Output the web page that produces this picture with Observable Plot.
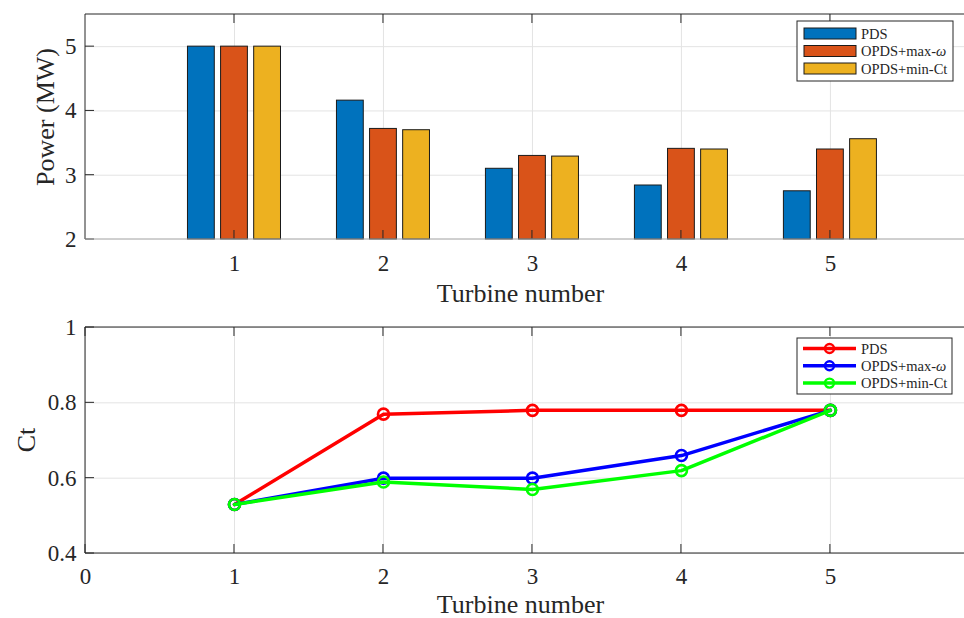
<!DOCTYPE html>
<html><head><meta charset="utf-8">
<script src="https://cdn.jsdelivr.net/npm/d3@7"></script>
<script src="https://cdn.jsdelivr.net/npm/@observablehq/plot@0.6"></script>
<style>
body{margin:0;background:#fff;}
#chart{width:964px;}
#chart svg{display:block;}
</style></head><body><div id="chart"></div>
<script>
const turbines = [1, 2, 3, 4, 5];
const seriesNames = ["PDS", "OPDS+max-ω", "OPDS+min-Ct"];
const powerPDS = [5.0, 4.16, 3.10, 2.84, 2.75];
const powerMaxOmega = [5.0, 3.72, 3.30, 3.41, 3.40];
const powerMinCt = [5.0, 3.70, 3.29, 3.40, 3.56];
const ctPDS = [0.53, 0.77, 0.78, 0.78, 0.78];
const ctMaxOmega = [0.53, 0.60, 0.60, 0.66, 0.78];
const ctMinCt = [0.53, 0.59, 0.57, 0.62, 0.78];
const powerTicks = [2, 3, 4, 5];
const ctTicks = [0.4, 0.6, 0.8, 1];
const xTicksTop = [1, 2, 3, 4, 5];
const xTicksBottom = [0, 1, 2, 3, 4, 5];
const xLabel = "Turbine number";
const powerLabel = "Power (MW)";
const ctLabel = "Ct";

const barColors = ["#0072BD", "#D95319", "#EDB120"];
const lineColors = ["#FF0000", "#0000FF", "#00FF00"];
const FONT = "'Liberation Serif', 'Times New Roman', serif";
const GRID = "#e3e3e3", FRAME = "#262626";
const fmt = d => String(d);

const powerSeries = [powerPDS, powerMaxOmega, powerMinCt];
const ctSeries = [ctPDS, ctMaxOmega, ctMinCt];
const groupOffset = 0.2222, barW = 0.18;
const bars = [];
powerSeries.forEach((vals, i) => vals.forEach((v, j) => bars.push({
  turbine: turbines[j], i, value: v,
  x1: turbines[j] + (i - 1) * groupOffset - barW / 2,
  x2: turbines[j] + (i - 1) * groupOffset + barW / 2
})));
const pts = [];
ctSeries.forEach((vals, i) => vals.forEach((v, j) => pts.push({turbine: turbines[j], i, value: v})));

function addLegendText(sel, name) {
  const parts = name.split("ω");
  sel.append("tspan").text(parts[0]);
  if (parts.length > 1) {
    sel.append("tspan").attr("font-style", "italic").text("ω");
    sel.append("tspan").text(parts[1]);
  }
}

function decorate(svg, o) {
  const x = svg.scale("x"), y = svg.scale("y");
  const s = d3.select(svg);
  const [xl, xr] = x.range;
  const [yb, yt] = y.range;
  const g = s.append("g").attr("fill", "none");
  o.xTicks.forEach(v => {
    const px = x.apply(v);
    g.append("line").attr("x1", px).attr("x2", px).attr("y1", yt).attr("y2", yt + 9).attr("stroke", FRAME);
    g.append("line").attr("x1", px).attr("x2", px).attr("y1", yb).attr("y2", yb - 9).attr("stroke", FRAME);
  });
  o.yTicks.forEach(v => {
    const py = y.apply(v);
    g.append("line").attr("x1", xl).attr("x2", xl + 9).attr("y1", py).attr("y2", py).attr("stroke", FRAME);
  });
  g.append("line").attr("x1", xl).attr("x2", xr).attr("y1", yt).attr("y2", yt).attr("stroke", FRAME);
  g.append("line").attr("x1", xl).attr("x2", xl).attr("y1", yt).attr("y2", yb).attr("stroke", FRAME);
  g.append("line").attr("x1", xl).attr("x2", xr).attr("y1", yb).attr("y2", yb).attr("stroke", o.bottomColor);
  s.append("text").attr("x", (xl + xr) / 2 - 4).attr("y", yb + o.xLabelDy)
    .attr("text-anchor", "middle").attr("fill", FRAME).attr("font-size", 26).attr("font-family", FONT).text(xLabel);
  s.append("text").attr("transform", `translate(${o.yLabelX},${o.yLabelY}) rotate(-90)`)
    .attr("text-anchor", "middle").attr("fill", FRAME).attr("font-size", 26).attr("font-family", FONT).text(o.yLabel);
  const L = s.append("g").attr("font-family", FONT).attr("font-size", 14.5).attr("text-anchor", "start");
  L.append("rect").attr("x", o.leg.x).attr("y", o.leg.y).attr("width", o.leg.w).attr("height", o.leg.h)
    .attr("fill", "#fff").attr("stroke", FRAME).attr("stroke-width", 1);
  seriesNames.forEach((name, i) => {
    const cy = o.leg.y + o.leg.row0 + i * o.leg.step;
    if (o.kind === "bar") {
      L.append("rect").attr("x", o.leg.x + 7).attr("y", cy - 5.5).attr("width", 52).attr("height", 11)
        .attr("fill", barColors[i]).attr("stroke", "#1a1a1a");
    } else {
      L.append("line").attr("x1", o.leg.x + 6).attr("x2", o.leg.x + 59).attr("y1", cy).attr("y2", cy)
        .attr("stroke", lineColors[i]).attr("stroke-width", 3.5);
      L.append("circle").attr("cx", o.leg.x + 32.5).attr("cy", cy).attr("r", 4.5)
        .attr("fill", "none").attr("stroke", lineColors[i]).attr("stroke-width", 2.4);
    }
    const t = L.append("text").attr("x", o.leg.x + 64).attr("y", cy).attr("dy", "0.35em")
      .attr("fill", FRAME).attr("text-anchor", "start");
    addLegendText(t, name);
  });
}

const topChart = Plot.plot({
  width: 964, height: 310,
  marginLeft: 85, marginRight: 0, marginTop: 14, marginBottom: 71,
  x: {domain: [0, 5.9]}, y: {domain: [2, 5.5]},
  style: {fontFamily: FONT, fontSize: "23px", color: FRAME, background: "#fff"},
  marks: [
    Plot.gridX(xTicksTop, {stroke: GRID, strokeOpacity: 1}),
    Plot.gridY(powerTicks.slice(1), {stroke: GRID, strokeOpacity: 1}),
    Plot.rectY(bars, {x1: "x1", x2: "x2", y1: 2, y2: "value", fill: d => barColors[d.i], stroke: "#1a1a1a", strokeWidth: 1}),
    Plot.axisX(xTicksTop, {tickSize: 0, tickPadding: 15, label: null, fontSize: 23, tickFormat: fmt}),
    Plot.axisY(powerTicks, {tickSize: 0, tickPadding: 9, label: null, fontSize: 23, tickFormat: fmt})
  ]
});
decorate(topChart, {
  xTicks: xTicksTop, yTicks: powerTicks, bottomColor: "#a0a0a0",
  xLabelDy: 63, yLabel: powerLabel, yLabelX: 54, yLabelY: 117, kind: "bar",
  leg: {x: 797, y: 21, w: 156, h: 60, row0: 12.5, step: 17.5}
});

const botChart = Plot.plot({
  width: 964, height: 308,
  marginLeft: 85, marginRight: 0, marginTop: 17, marginBottom: 65,
  x: {domain: [0, 5.9]}, y: {domain: [0.4, 1]},
  style: {fontFamily: FONT, fontSize: "23px", color: FRAME, background: "#fff"},
  marks: [
    Plot.gridX(xTicksBottom, {stroke: GRID, strokeOpacity: 1}),
    Plot.gridY(ctTicks, {stroke: GRID, strokeOpacity: 1}),
    ...[0, 1, 2].flatMap(i => [
      Plot.line(pts.filter(d => d.i === i), {x: "turbine", y: "value", stroke: lineColors[i], strokeWidth: 3.5}),
      Plot.dot(pts.filter(d => d.i === i), {x: "turbine", y: "value", r: 5.5, stroke: lineColors[i], strokeWidth: 2.6, fill: "none"})
    ]),
    Plot.axisX(xTicksBottom, {tickSize: 0, tickPadding: 14, label: null, fontSize: 23, tickFormat: fmt}),
    Plot.axisY(ctTicks, {tickSize: 0, tickPadding: 9, label: null, fontSize: 23, tickFormat: fmt})
  ]
});
decorate(botChart, {
  xTicks: xTicksBottom, yTicks: ctTicks, bottomColor: FRAME,
  xLabelDy: 60, yLabel: ctLabel, yLabelX: 35, yLabelY: 130, kind: "line",
  leg: {x: 797, y: 28, w: 155, h: 56, row0: 10.5, step: 17.3}
});

document.getElementById("chart").append(topChart, botChart);
</script></body></html>
